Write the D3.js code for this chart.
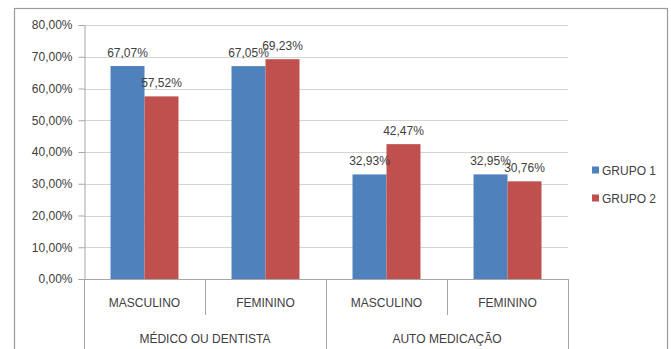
<!DOCTYPE html>
<html>
<head>
<meta charset="utf-8">
<script src="https://cdn.jsdelivr.net/npm/d3@7"></script>
<style>
  html, body { margin: 0; padding: 0; background: #fff; }
  svg { display: block; font-family: "Liberation Sans", Arial, sans-serif; }
</style>
</head>
<body>
<svg id="chart" width="671" height="349"></svg>
<script>
// Grouped bars: two groups of respondents, split by source and sex
const groups = ["MÉDICO OU DENTISTA", "AUTO MEDICAÇÃO"];
const categories = ["MASCULINO", "FEMININO"];
const seriesNames = ["GRUPO 1", "GRUPO 2"];
const grupo1 = [67.07, 67.05, 32.93, 32.95];
const grupo2 = [57.52, 69.23, 42.47, 30.76];
const yTicks = [0, 10, 20, 30, 40, 50, 60, 70, 80];
const colors = ["#4F81BD", "#C0504D"];

const rows = [];
groups.forEach((g, gi) => categories.forEach((c, ci) => {
  const i = gi * categories.length + ci;
  rows.push({ key: g + "|" + c, group: g, cat: c, values: [grupo1[i], grupo2[i]] });
}));

const svg = d3.select("#chart");
const plotLeft = 84, plotRight = 568, plotTop = 25, plotBottom = 279;
const fmt = v => v.toFixed(2).replace(".", ",") + "%";
const textColor = "#404040";

// outer frame
svg.append("rect").attr("x", 14.5).attr("y", 8.5).attr("width", 653).attr("height", 360)
  .attr("fill", "#fff").attr("stroke", "#9a9a9a").attr("stroke-width", 1.2);

const x = d3.scaleBand().domain(rows.map(r => r.key)).range([plotLeft, plotRight]).paddingInner(0).paddingOuter(0);
const xInner = d3.scaleBand().domain([0, 1]).range([0, x.bandwidth()]).paddingOuter(0.78).paddingInner(0);
const y = d3.scaleLinear().domain([0, 80]).range([plotBottom, plotTop]);

// gridlines
svg.append("g").selectAll("line").data(yTicks.filter(t => t > 0)).join("line")
  .attr("x1", plotLeft).attr("x2", plotRight)
  .attr("y1", d => Math.round(y(d)) + 0.5).attr("y2", d => Math.round(y(d)) + 0.5)
  .attr("stroke", "#d4d4d4").attr("stroke-width", 1.2);

// y axis
const yAxis = d3.axisLeft(y).tickValues(yTicks).tickSize(6).tickPadding(6)
  .tickFormat(d => d.toFixed(2).replace(".", ",") + "%");
const ya = svg.append("g").attr("transform", `translate(${plotLeft + 0.5},0)`).call(yAxis);
ya.select(".domain").attr("stroke", "#a6a6a6");
ya.selectAll(".tick line").attr("stroke", "#a6a6a6");
ya.selectAll(".tick text").attr("fill", textColor).style("font-size", "12px")
  .style("font-family", "'Liberation Sans', Arial, sans-serif");

// bars
const barG = svg.append("g").selectAll("g").data(rows).join("g")
  .attr("transform", d => `translate(${x(d.key)},0)`);
barG.selectAll("rect").data(d => d.values.map((v, i) => ({ v, i }))).join("rect")
  .attr("x", d => xInner(d.i)).attr("width", xInner.bandwidth())
  .attr("y", d => y(d.v)).attr("height", d => plotBottom - y(d.v))
  .attr("fill", d => colors[d.i]);

// value labels
barG.selectAll("text").data(d => d.values.map((v, i) => ({ v, i }))).join("text")
  .attr("x", d => xInner(d.i) + xInner.bandwidth() / 2)
  .attr("y", d => y(d.v) - 9)
  .attr("text-anchor", "middle").attr("fill", textColor).style("font-size", "12px")
  .text(d => fmt(d.v));

// baseline
svg.append("line").attr("x1", plotLeft).attr("x2", plotRight).attr("y1", plotBottom + 0.5).attr("y2", plotBottom + 0.5)
  .attr("stroke", "#a6a6a6");

// category dividers and labels
const sep = svg.append("g").attr("stroke", "#a6a6a6");
rows.forEach((r, i) => {
  const x0 = x(r.key);
  const isGroupEdge = i % categories.length === 0;
  sep.append("line").attr("x1", Math.round(x0) + 0.5).attr("x2", Math.round(x0) + 0.5)
    .attr("y1", plotBottom).attr("y2", isGroupEdge ? 349 : 315);
});
sep.append("line").attr("x1", plotRight + 0.5).attr("x2", plotRight + 0.5).attr("y1", plotBottom).attr("y2", 349);

svg.append("g").selectAll("text").data(rows).join("text")
  .attr("x", d => x(d.key) + x.bandwidth() / 2).attr("y", 307)
  .attr("text-anchor", "middle").attr("fill", textColor).style("font-size", "12px")
  .text(d => d.cat);

svg.append("g").selectAll("text").data(groups).join("text")
  .attr("x", g => {
    const ks = rows.filter(r => r.group === g).map(r => x(r.key));
    return (d3.min(ks) + d3.max(ks) + x.bandwidth()) / 2;
  })
  .attr("y", 343).attr("text-anchor", "middle").attr("fill", textColor).style("font-size", "12px")
  .text(d => d);

// legend
const leg = svg.append("g").selectAll("g").data(seriesNames).join("g")
  .attr("transform", (d, i) => `translate(592,${170 + i * 28})`);
leg.append("rect").attr("x", 0).attr("y", -3.5).attr("width", 7).attr("height", 7)
  .attr("fill", (d, i) => colors[i]);
leg.append("text").attr("x", 10).attr("y", 4.5).attr("fill", textColor).style("font-size", "12px")
  .text(d => d);
</script>
</body>
</html>
